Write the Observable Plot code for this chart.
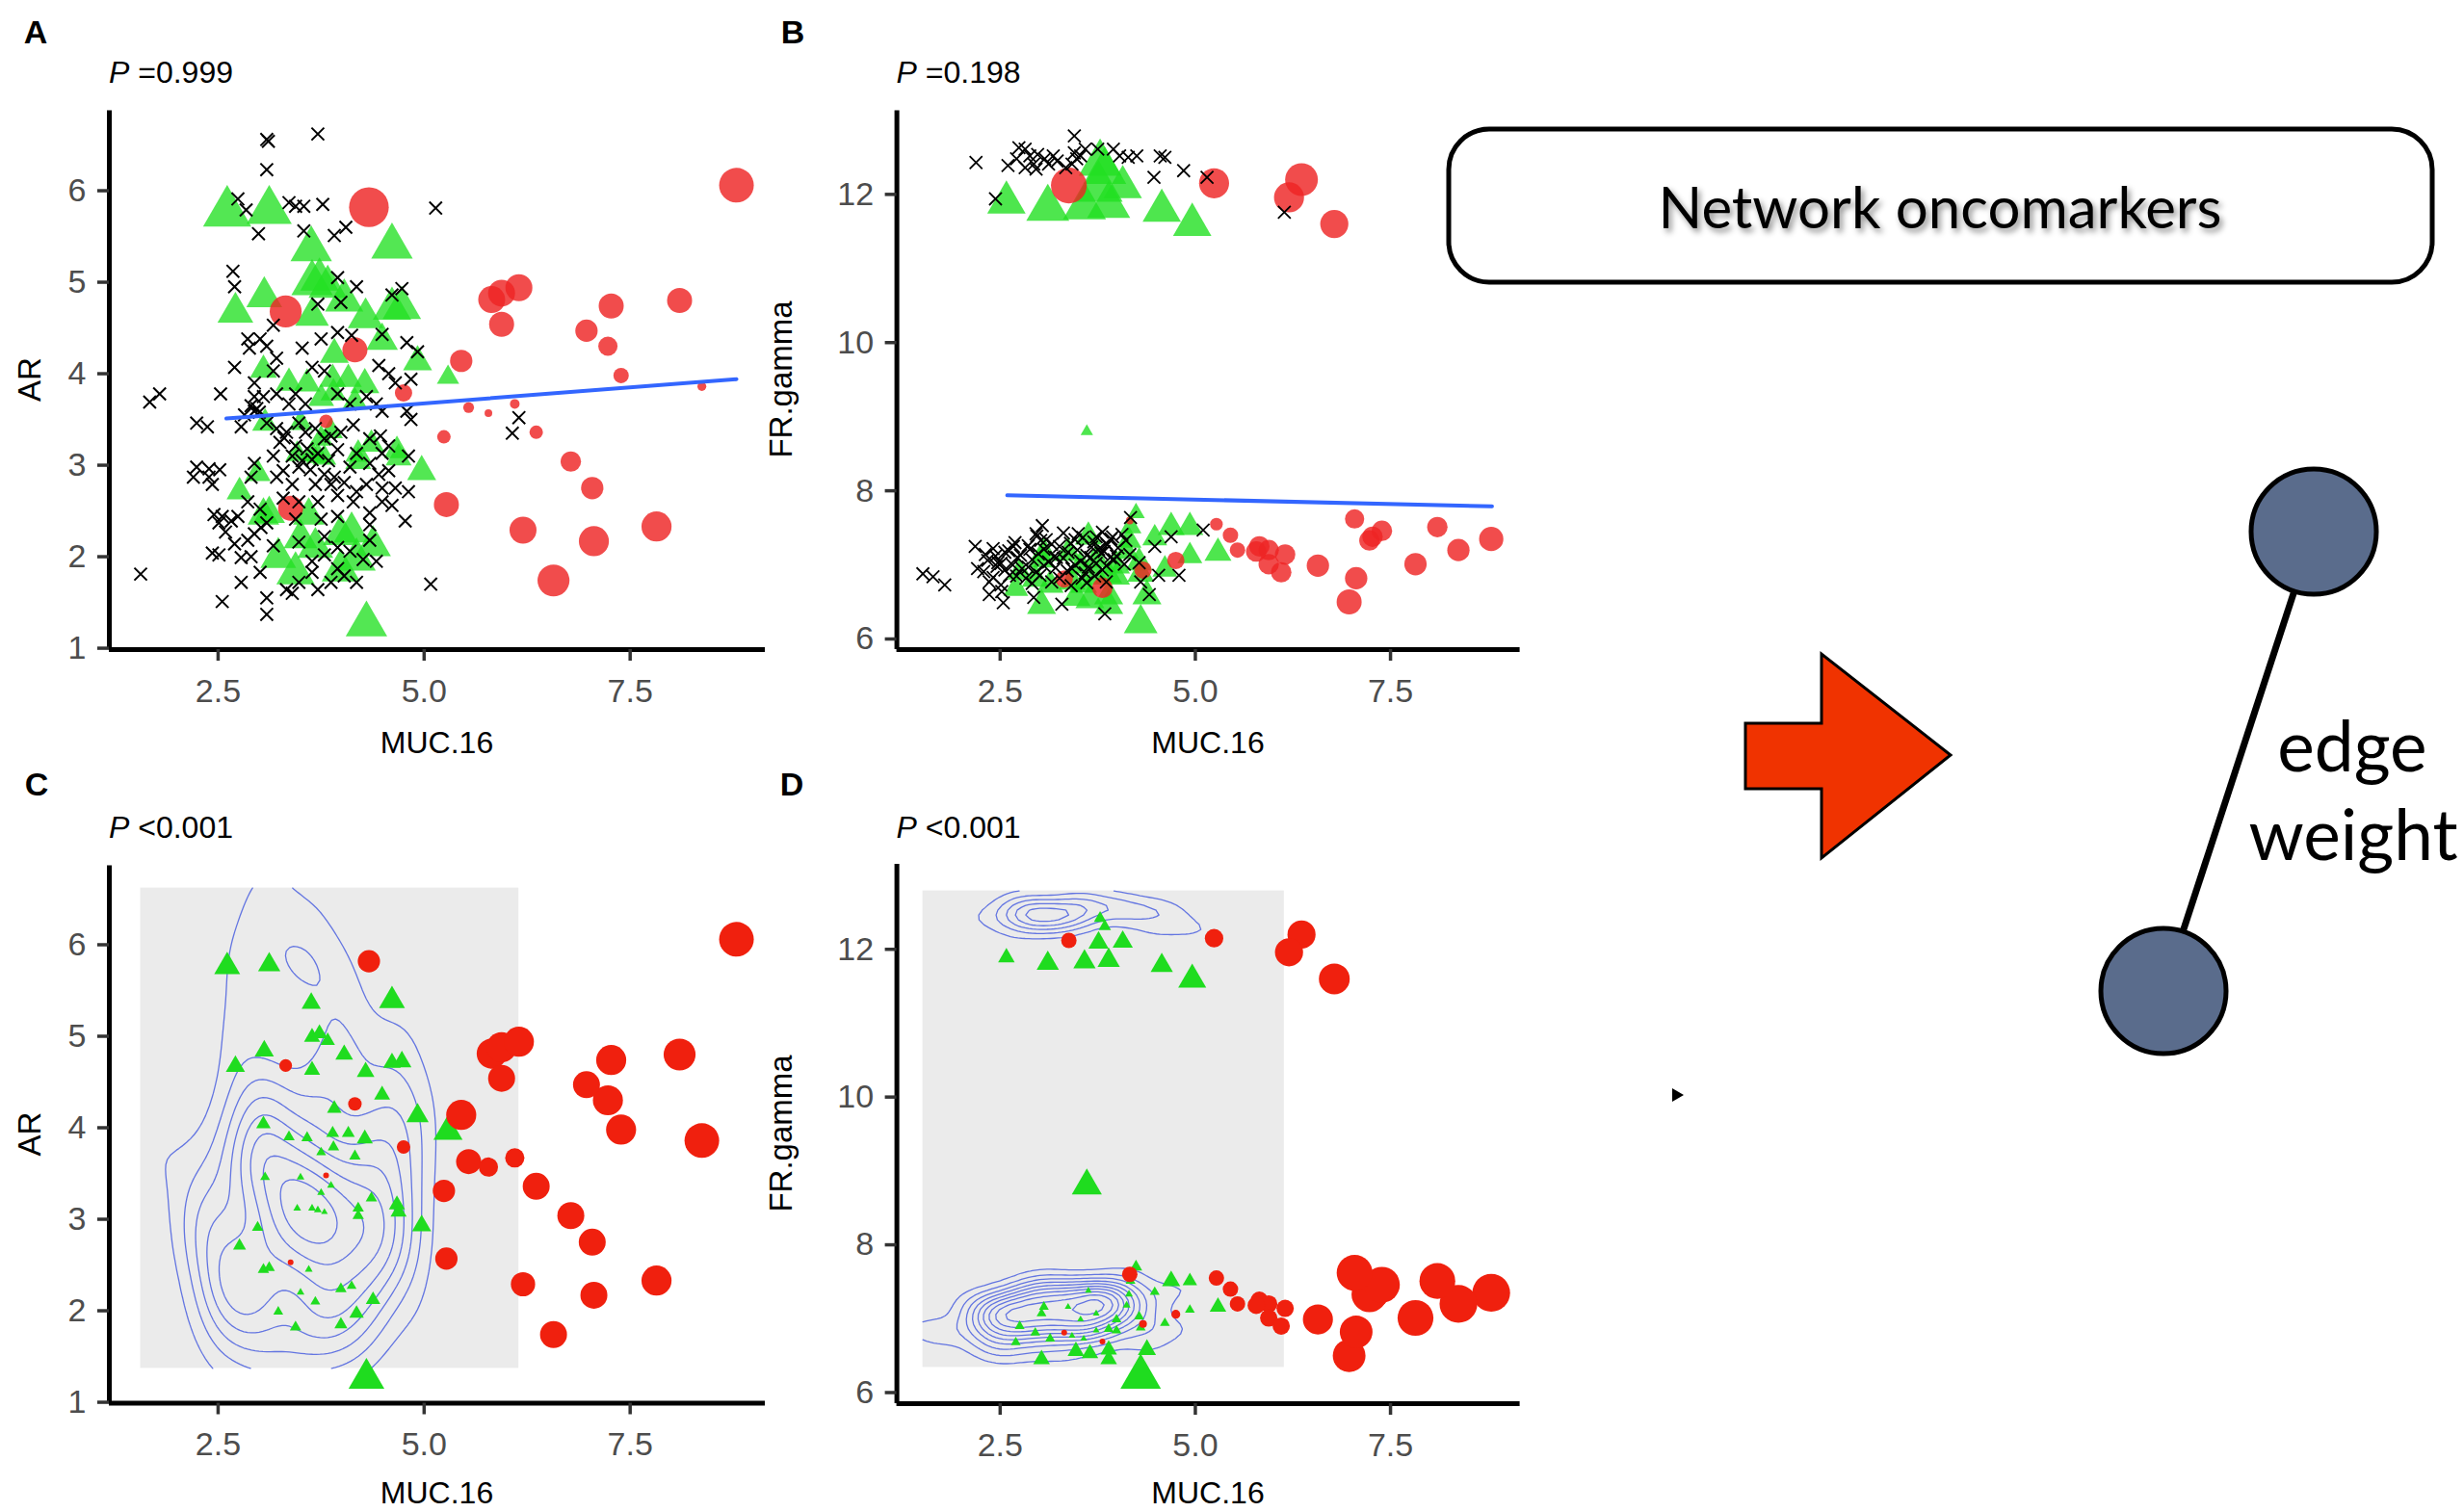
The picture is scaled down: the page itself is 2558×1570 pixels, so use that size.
<!DOCTYPE html>
<html><head><meta charset="utf-8">
<script src="https://cdn.jsdelivr.net/npm/d3@7"></script>
<script src="https://cdn.jsdelivr.net/npm/@observablehq/plot@0.6"></script>
<style>
html,body{margin:0;padding:0;background:#fff;overflow:hidden;}
#fig{position:relative;width:2558px;height:1570px;background:#fff;}
#fig svg{position:absolute;}
</style></head><body><div id="fig"></div>
<script>
// ---------------- DATA ----------------
// Red (circle) samples: MUC.16, AR, FR.gamma and size weight in panels A-D
const redMUC = [4.33, 8.79, 3.32, 4.16, 4.75, 3.81, 3.38, 5.45, 5.82, 5.94, 6.15, 5.94, 7.27, 8.10, 6.97, 7.23, 7.39, 8.37, 5.54, 5.78, 6.10, 5.24, 6.36, 6.78, 7.04, 5.27, 6.20, 7.06, 7.82, 6.57];
const redAR  = [5.82, 6.06, 4.68, 4.26, 3.79, 3.48, 2.53, 4.14, 4.81, 4.88, 4.94, 4.54, 4.74, 4.80, 4.47, 4.30, 3.98, 3.86, 3.63, 3.57, 3.67, 3.31, 3.36, 3.04, 2.75, 2.57, 2.29, 2.17, 2.33, 1.74];
const redFR  = [6.93, 7.35, 6.81, 7.60, 7.06, 6.69, 12.12, 7.40, 7.25, 7.20, 7.14, 7.01, 7.38, 7.51, 6.50, 7.33, 7.46, 7.20, 7.20, 7.18, 6.90, 12.15, 12.20, 11.60, 7.62, 7.55, 11.96, 6.82, 7.01, 6.99];
const redWA  = [10.3, 9, 8.3, 6.5, 4.5, 3.5, 6.5, 5.8, 7, 7, 7, 6.5, 6.5, 6.5, 5.8, 5, 4, 2.3, 2.8, 2, 2.5, 3.5, 3.5, 5.3, 5.8, 6.5, 7, 7.8, 7.8, 8.3];
const redWB  = [4.5, 6.3, 4.5, 2, 4.5, 5.3, 9.3, 4, 5.3, 5.3, 5.3, 5.3, 5.3, 5.3, 6.5, 5.3, 5.3, 5.8, 4, 5.3, 5.3, 7.8, 8.5, 7.3, 5, 3.3, 7.8, 5.8, 5.8, 5.8];
const redWC  = [5.8, 9, 3.3, 3.5, 3.5, 1.5, 1.5, 7.8, 7.8, 7.8, 7.8, 7, 7.8, 8.3, 7, 7.8, 7.8, 9, 6.5, 5, 5, 5.8, 7, 7, 7, 5.8, 6.3, 7, 7.8, 7];
const redWD  = [2, 9.8, 1.5, 4, 2.3, 1.5, 4, 4, 4.5, 4.5, 4.5, 4.5, 9.3, 9.3, 8.5, 9.3, 9.3, 9.8, 4, 4.5, 4.5, 4.8, 7.3, 8, 9.3, 4, 7.3, 8.5, 9.3, 7.8];

// Green (triangle) samples on the AR panels (A, C)
const greenMUC_AR = [2.61, 3.12, 3.63, 4.61, 3.64, 3.73, 3.83, 4.03, 3.06, 2.71, 3.64, 4.29, 4.61, 4.73, 4.49, 3.91, 4.92, 5.29, 3.05, 3.36, 3.58, 3.89, 4.08, 4.28, 3.90, 3.75, 4.16, 3.07, 3.50, 3.87, 3.75, 3.46, 3.64, 3.71, 3.79, 4.20, 4.20, 4.36, 4.67, 4.69, 4.97, 2.98, 2.76, 3.05, 3.12, 3.60, 3.50, 3.68, 3.99, 4.12, 4.38, 3.23, 3.44, 3.99, 4.18, 4.30];
const greenAR     = [5.76, 5.78, 5.36, 5.39, 4.99, 5.03, 4.95, 4.80, 4.84, 4.67, 4.63, 4.61, 4.71, 4.72, 4.36, 4.21, 4.13, 3.96, 4.04, 3.90, 3.89, 3.94, 3.94, 3.88, 3.79, 3.73, 3.69, 3.46, 3.46, 3.37, 3.29, 3.12, 3.12, 3.10, 3.08, 3.12, 3.04, 3.23, 3.16, 3.08, 2.93, 2.91, 2.71, 2.45, 2.47, 2.45, 2.20, 2.10, 2.24, 2.27, 2.12, 1.99, 1.82, 1.85, 1.97, 1.26];
const greenWA     = [9.3, 8.7, 8, 8, 8, 7.4, 7.4, 7.4, 6.9, 6.9, 6.5, 6.9, 7.4, 7.4, 6.1, 5.6, 5.6, 4.3, 5.2, 5.2, 5.2, 5.2, 5.2, 5.6, 5, 5, 5, 5, 4.6, 4.6, 4.6, 4.6, 4.6, 4.6, 4.6, 5, 5, 5, 5, 5, 5.6, 5, 5, 6.1, 6.1, 6.1, 6.5, 6.9, 6.9, 6.9, 6.9, 6.9, 7.4, 7.4, 7.4, 8];
const greenWC     = [5, 4.3, 3.7, 5, 3.1, 3.1, 2.8, 3.4, 3.7, 3.7, 3.1, 3.4, 3.4, 3.7, 3.1, 2.8, 4.3, 5.6, 2.8, 2.2, 2.2, 2.5, 2.5, 3.1, 2.2, 1.9, 2.2, 1.9, 1.5, 1.5, 1.5, 1.5, 1.5, 1.5, 1.3, 2.2, 2.2, 2.2, 3.1, 3.1, 3.7, 2.2, 2.5, 2.2, 2.2, 1.5, 1.5, 1.9, 2.2, 1.9, 2.8, 1.9, 2.2, 2.5, 2.8, 6.9];

// Green (triangle) samples on the FR.gamma panels (B, D)
const greenMUC_FR = [2.58, 3.11, 3.58, 3.76, 3.78, 3.84, 3.89, 4.07, 4.57, 4.96, 3.61, 4.24, 4.17, 4.69, 4.93, 5.29, 4.48, 4.93, 4.61, 4.12, 4.15, 3.99, 3.89, 3.63, 3.73, 3.53, 3.37, 3.06, 3.03, 2.75, 2.95, 2.70, 3.14, 3.42, 3.57, 3.73, 3.99, 4.28, 4.30, 3.03, 3.47, 3.65, 3.89, 3.89, 4.38, 4.30];
const greenFR     = [11.89, 11.81, 11.83, 12.09, 12.42, 12.31, 11.85, 12.10, 11.78, 11.59, 8.80, 7.70, 7.51, 7.51, 7.51, 7.16, 7.36, 7.12, 6.94, 7.18, 7.33, 6.99, 6.86, 7.38, 7.07, 6.99, 7.16, 7.16, 7.07, 6.90, 6.81, 6.68, 6.73, 6.77, 6.73, 6.84, 6.84, 7.03, 6.88, 6.45, 6.56, 6.53, 6.58, 6.45, 6.58, 6.21];
const greenWB     = [7.4, 8.3, 8.3, 9.3, 8.3, 8.3, 8.3, 7.4, 7.4, 7.4, 2.4, 3.4, 4.2, 5.2, 5.2, 5.2, 4.8, 4.8, 4.8, 4.8, 4.8, 5.2, 5.2, 5.2, 5.2, 5.2, 5.2, 5.2, 5.2, 4.8, 5.2, 4.8, 5.2, 5.2, 5.2, 5.2, 5.2, 5.2, 5.2, 5.6, 5.6, 5.6, 5.6, 5.6, 5.6, 6.5];
const greenWD     = [3.2, 4.3, 4.3, 3.9, 2.4, 2.4, 4.3, 3.9, 4.3, 5.4, 5.8, 2.4, 1.9, 3.5, 2.8, 3.2, 1.9, 1.9, 1.9, 1.5, 1.5, 1.9, 1.9, 1.3, 1.3, 1.3, 1.3, 1.9, 1.9, 1.9, 1.9, 1.9, 1.9, 1.3, 1.3, 1.3, 1.9, 1.9, 1.9, 3.2, 3.2, 3.2, 3.2, 3.2, 3.5, 7.8];

// Black (cross) samples, [MUC.16, AR]
const blackA = [[3.09,6.56],[3.11,6.54],[3.09,6.23],[3.71,6.62],[2.74,5.91],[2.84,5.79],[3.36,5.87],[3.44,5.83],[3.54,5.83],[3.77,5.85],
[2.99,5.53],[3.54,5.56],[4.05,5.60],[3.91,5.51],[5.14,5.81],[2.68,5.12],[2.70,4.95],[3.95,5.05],[4.18,4.95],[4.73,4.93],
[4.61,4.86],[3.99,4.78],[3.71,4.76],[3.17,4.53],[2.86,4.38],[3.01,4.38],[3.09,4.30],[2.88,4.28],[3.75,4.38],[3.95,4.45],
[4.12,4.42],[3.52,4.28],[4.49,4.43],[4.79,4.34],[4.92,4.24],[3.21,4.17],[2.70,4.07],[3.17,4.03],[3.64,4.07],[3.79,4.03],
[4.45,4.09],[4.57,4.00],[4.65,3.90],[4.84,3.94],[2.94,3.90],[2.53,3.78],[1.79,3.78],[1.67,3.69],[2.94,3.75],[2.90,3.65],
[2.94,3.59],[3.05,3.75],[3.21,3.78],[3.44,3.78],[3.36,3.67],[3.56,3.67],[3.95,3.78],[4.10,3.67],[4.30,3.75],[4.42,3.67],
[4.49,3.59],[4.79,3.59],[4.84,3.50],[2.24,3.46],[2.37,3.42],[2.78,3.42],[2.82,3.55],[3.09,3.46],[3.21,3.40],[3.33,3.36],
[3.48,3.46],[3.56,3.36],[3.68,3.40],[3.79,3.29],[3.87,3.32],[3.99,3.36],[4.14,3.44],[4.34,3.29],[4.47,3.32],[3.25,3.25],
[3.44,3.21],[3.71,3.13],[3.95,3.17],[4.18,3.13],[4.49,3.13],[4.57,3.21],[2.24,2.98],[2.39,2.96],[2.20,2.87],[2.39,2.87],
[2.94,3.02],[3.17,3.10],[3.29,2.94],[3.48,2.98],[3.64,3.06],[3.79,2.90],[3.91,2.87],[4.10,2.98],[4.34,3.02],[4.45,2.90],
[4.57,2.94],[4.81,3.10],[2.90,2.87],[3.21,2.87],[3.40,2.79],[3.68,2.79],[3.87,2.79],[4.03,2.81],[4.18,2.71],[4.30,2.79],
[4.49,2.75],[4.65,2.75],[4.81,2.71],[2.43,2.79],[2.86,2.60],[3.01,2.52],[3.29,2.64],[3.48,2.60],[3.71,2.60],[3.95,2.67],
[4.14,2.60],[4.34,2.48],[4.49,2.60],[4.61,2.56],[2.45,2.46],[2.55,2.44],[2.66,2.39],[2.51,2.37],[2.74,2.44],[3.75,2.41],
[3.95,2.44],[4.77,2.39],[3.09,2.37],[3.44,2.41],[4.34,2.35],[2.59,2.27],[2.86,2.18],[2.70,2.14],[2.94,2.25],[2.51,2.02],
[2.43,2.04],[2.78,1.99],[2.90,2.00],[3.17,2.12],[3.48,2.16],[3.79,2.22],[3.95,2.10],[3.79,2.02],[3.64,1.95],[4.10,2.06],
[4.34,2.18],[4.42,1.95],[4.26,1.97],[3.01,1.83],[2.78,1.72],[3.33,1.64],[3.40,1.60],[3.64,1.83],[3.71,1.64],[3.87,1.72],
[4.03,1.79],[4.18,1.72],[2.55,1.51],[3.09,1.55],[3.09,1.37],[5.08,1.70],[3.95,1.87],[3.48,1.72],[1.56,1.81],[6.07,3.35],
[6.15,3.52],[2.97,3.62],[3.00,3.58],[3.52,3.05],[3.58,3.18],[3.62,2.95],[3.84,3.05],[3.30,3.30],[3.40,3.10],[2.52,2.95],[3.02,2.32]];

// Black (cross) samples, [MUC.16, FR.gamma]
const blackB = [[2.19,12.43],[2.44,11.94],[2.60,12.39],[2.74,12.63],[2.82,12.61],[2.88,12.52],[2.93,12.41],[2.98,12.54],[3.07,12.48],[3.12,12.41],
[3.18,12.52],[3.23,12.45],[3.34,12.36],[3.45,12.79],[3.45,12.56],[3.48,12.48],[3.59,12.61],[3.75,12.61],[3.95,12.61],[4.03,12.52],
[4.14,12.50],[4.25,12.52],[4.47,12.23],[4.55,12.52],[4.61,12.50],[4.85,12.32],[5.15,12.23],[6.14,11.76],[2.71,12.48],[2.82,12.36],
[2.96,12.34],[3.42,12.41],[3.53,12.52],
[1.51,6.88],[1.64,6.84],[1.79,6.73],[2.18,7.25],[2.21,6.95],[2.36,6.77],[2.44,7.12],[2.47,7.03],[2.52,6.64],[2.54,6.49],
[2.67,7.25],[2.72,7.10],[2.78,6.95],[2.88,7.21],[2.96,7.42],[3.04,7.53],[3.09,7.34],[3.22,7.10],[3.29,6.47],[3.40,7.29],
[3.50,7.42],[3.66,7.10],[3.73,7.38],[3.76,7.21],[3.86,7.29],[3.94,7.38],[3.99,7.12],[3.84,6.34],[3.86,6.77],[4.17,7.64],
[4.30,6.77],[4.41,6.60],[4.48,7.25],[4.69,7.38],[4.79,6.86],[5.10,7.47],[2.83,6.82],[2.62,6.86],[3.01,6.86],[3.16,6.77],
[3.42,6.95],[3.55,6.82],[4.28,7.03],[4.53,6.86],[2.36,6.60],[2.93,6.56],
[2.97,7.39],[3.31,7.43],[3.56,7.37],[3.81,7.44],[3.92,7.35],[4.06,7.41],
[2.69,7.30],[3.02,7.33],[3.16,7.28],[3.46,7.34],[3.70,7.31],[3.87,7.27],[4.11,7.33],
[2.41,7.22],[2.61,7.19],[2.86,7.26],[3.06,7.21],[3.26,7.25],[3.49,7.20],[3.67,7.24],[3.83,7.18],[4.01,7.23],
[2.31,7.14],[2.56,7.17],[2.76,7.13],[2.99,7.15],[3.19,7.11],[3.37,7.17],[3.61,7.13],[3.79,7.16],[3.91,7.10],[4.16,7.14],
[2.34,7.06],[2.51,7.02],[2.91,7.07],[3.12,7.04],[3.31,7.09],[3.53,7.05],[3.73,7.02],[3.96,7.07],[4.09,7.01],
[2.46,6.98],[2.66,7.00],[2.86,6.97],[3.06,6.99],[3.21,6.96],[3.46,7.00],[3.63,6.97],[3.86,6.99],
[2.29,6.91],[2.56,6.93],[2.96,6.90],[3.36,6.92],[3.59,6.89],[3.81,6.93],
[2.41,6.83],[2.71,6.85],[3.26,6.82],[3.71,6.85],
[2.51,6.73],[2.91,6.75],[3.41,6.72],[3.61,6.76]];

// Fitted (lm) lines shown in A and B
const fitA_MUC = [2.60, 8.79], fitA_AR = [3.51, 3.94];
const fitB_MUC = [2.59, 8.80], fitB_FR = [7.94, 7.79];

// Axis ticks and labels
const xTicks = [2.5, 5.0, 7.5];
const arTicks = [1, 2, 3, 4, 5, 6];
const frTicks = [6, 8, 10, 12];
const pValues = ["=0.999", "=0.198", "<0.001", "<0.001"];
const panelLetters = ["A", "B", "C", "D"];

// ---------------- BUILD ----------------
const FONT = "'Liberation Sans', Arial, Helvetica, sans-serif";
const fig = document.getElementById("fig");
const zip = (cols) => { const k = Object.keys(cols); return cols[k[0]].map((_, i) => Object.fromEntries(k.map(n => [n, cols[n][i]]))); };

const red = zip({muc: redMUC, ar: redAR, fr: redFR, wA: redWA, wB: redWB, wC: redWC, wD: redWD});
const gAR = zip({muc: greenMUC_AR, y: greenAR, wA: greenWA, wC: greenWC});
const gFR = zip({muc: greenMUC_FR, y: greenFR, wB: greenWB, wD: greenWD});
const bA = blackA.map(([muc, y]) => ({muc, y}));
const bB = blackB.map(([muc, y]) => ({muc, y}));
const fitA = zip({muc: fitA_MUC, y: fitA_AR});
const fitB = zip({muc: fitB_MUC, y: fitB_FR});

// MASS::kde2d style density + contour lines (as ggplot's stat_density_2d)
function bwNrd(v) {
  const r = d3.quantile(v, 0.75) - d3.quantile(v, 0.25);
  return 4 * 1.06 * Math.min(Math.sqrt(d3.variance(v)), r / 1.34) * Math.pow(v.length, -0.2);
}
function densityContours(pts, {n = 100, adjust = [1, 1], bins = 10} = {}) {
  const xs = pts.map(d => d.muc), ys = pts.map(d => d.y);
  const lx = d3.extent(xs), ly = d3.extent(ys);
  const hx = adjust[0] * bwNrd(xs) / 4, hy = adjust[1] * bwNrd(ys) / 4;
  const dn = (u) => Math.exp(-0.5 * u * u) / Math.sqrt(2 * Math.PI);
  const gx = d3.range(n).map(i => lx[0] + (lx[1] - lx[0]) * i / (n - 1));
  const gy = d3.range(n).map(i => ly[0] + (ly[1] - ly[0]) * i / (n - 1));
  const ax = gx.map(g => xs.map(x => dn((g - x) / hx)));
  const ay = gy.map(g => ys.map(y => dn((g - y) / hy)));
  const N = xs.length, values = new Float64Array(n * n);
  for (let j = 0; j < n; j++) for (let i = 0; i < n; i++) {
    let s = 0; const a = ax[i], b = ay[j];
    for (let k = 0; k < N; k++) s += a[k] * b[k];
    values[j * n + i] = s / (N * hx * hy);
  }
  const zmax = d3.max(values);
  const levels = d3.ticks(0, zmax, bins).filter(t => t > 0 && t < zmax);
  const cs = d3.contours().size([n, n]).thresholds(levels)(values);
  const out = []; let id = 0;
  for (const c of cs) for (const poly of c.coordinates) for (const ring of poly) {
    id++;
    for (const [cx, cy] of ring) {
      const edge = cx < 0.25 || cx > n - 0.25 || cy < 0.25 || cy > n - 0.25;
      out.push(edge ? {x: NaN, y: NaN, id} : {
        x: lx[0] + (cx - 0.5) * (lx[1] - lx[0]) / (n - 1),
        y: ly[0] + (cy - 0.5) * (ly[1] - ly[0]) / (n - 1), id});
    }
  }
  return {lines: out, box: [{x1: lx[0], x2: lx[1], y1: ly[0], y2: ly[1]}]};
}

function panel({left, top, width, height, mL, mR, mT, mB, xDomain, yDomain, yTicks, marks}) {
  const svg = Plot.plot({
    width, height, marginLeft: mL, marginRight: mR, marginTop: mT, marginBottom: mB,
    x: {domain: xDomain, axis: null}, y: {domain: yDomain, axis: null},
    r: {type: "linear", domain: [0, 10], range: [0, 20]},
    style: {fontFamily: FONT, background: "transparent", overflow: "visible", maxWidth: "none", color: "black"},
    marks: [
      ...marks,
      Plot.ruleX([xDomain[0]], {stroke: "black", strokeWidth: 5}),
      Plot.ruleY([yDomain[0]], {stroke: "black", strokeWidth: 5}),
      Plot.axisX(xTicks, {tickSize: 12, tickPadding: 18, stroke: "#333", strokeWidth: 3.5, fill: "#4d4d4d", fontSize: 34, tickFormat: d3.format(".1f"), label: null}),
      Plot.axisY(yTicks, {tickSize: 12, tickPadding: 12, stroke: "#333", strokeWidth: 3.5, fill: "#4d4d4d", fontSize: 34, tickFormat: d => String(d), label: null})
    ]
  });
  svg.style.position = "absolute";
  svg.style.left = left + "px";
  svg.style.top = top + "px";
  fig.appendChild(svg);
}

const G1 = "#22e022", R1 = "#ee2424", G2 = "#1fdc1f", R2 = "#f0200e", BLUE = "#3366ff";
const xDom = [1.18, 9.14], xDomB = [1.177, 9.16];

// Panel A
panel({left: 0, top: 0, width: 800, height: 784, mL: 113, mR: 6, mT: 114.4, mB: 110,
  xDomain: xDom, yDomain: [0.985, 6.875], yTicks: arTicks, marks: [
    Plot.dot(gAR, {x: "muc", y: "y", r: "wA", symbol: "triangle", fill: G1, fillOpacity: 0.78}),
    Plot.dot(red, {x: "muc", y: "ar", r: "wA", fill: R1, fillOpacity: 0.82}),
    Plot.dot(bA, {x: "muc", y: "y", r: 6, symbol: "times", stroke: "black", strokeWidth: 2}),
    Plot.line(fitA, {x: "muc", y: "y", stroke: BLUE, strokeWidth: 4})
  ]});

// Panel B
panel({left: 800, top: 0, width: 800, height: 784, mL: 130.6, mR: 22.4, mT: 114.4, mB: 110,
  xDomain: xDomB, yDomain: [5.857, 13.13], yTicks: frTicks, marks: [
    Plot.dot(gFR, {x: "muc", y: "y", r: "wB", symbol: "triangle", fill: G1, fillOpacity: 0.8}),
    Plot.dot(red, {x: "muc", y: "fr", r: "wB", fill: R1, fillOpacity: 0.82}),
    Plot.dot(bB, {x: "muc", y: "y", r: 6, symbol: "times", stroke: "black", strokeWidth: 1.8}),
    Plot.line(fitB, {x: "muc", y: "y", stroke: BLUE, strokeWidth: 4})
  ]});

// Panel C
const dC = densityContours(bA, {adjust: [0.92, 1.12], bins: 12});
panel({left: 0, top: 784, width: 800, height: 786, mL: 113, mR: 6, mT: 114.4, mB: 113.5,
  xDomain: xDom, yDomain: [0.99, 6.864], yTicks: arTicks, marks: [
    Plot.rect(dC.box, {x1: "x1", x2: "x2", y1: "y1", y2: "y2", fill: "#ebebeb"}),
    Plot.line(dC.lines, {x: "x", y: "y", z: "id", stroke: "#5468e0", strokeWidth: 1.3, strokeOpacity: 0.9}),
    Plot.dot(gAR, {x: "muc", y: "y", r: "wC", symbol: "triangle", fill: G2}),
    Plot.dot(red, {x: "muc", y: "ar", r: "wC", fill: R2})
  ]});

// Panel D
const dD = densityContours(bB, {adjust: [0.9, 1], bins: 10});
panel({left: 800, top: 784, width: 800, height: 786, mL: 130.6, mR: 22.4, mT: 113, mB: 113,
  xDomain: xDomB, yDomain: [5.85, 13.15], yTicks: frTicks, marks: [
    Plot.rect(dD.box, {x1: "x1", x2: "x2", y1: "y1", y2: "y2", fill: "#ebebeb"}),
    Plot.line(dD.lines, {x: "x", y: "y", z: "id", stroke: "#5468e0", strokeWidth: 1.3, strokeOpacity: 0.9}),
    Plot.dot(gFR, {x: "muc", y: "y", r: "wD", symbol: "triangle", fill: G2}),
    Plot.dot(red, {x: "muc", y: "fr", r: "wD", fill: R2})
  ]});

// ---------------- Overlay: titles, letters, schematic ----------------
const ns = "http://www.w3.org/2000/svg";
const ov = document.createElementNS(ns, "svg");
ov.setAttribute("width", 2558); ov.setAttribute("height", 1570);
ov.style.left = "0px"; ov.style.top = "0px";
const letterPos = [[37, 45], [823, 45], [38, 826], [822, 826]];
const pPos = [[113, 86], [930.6, 86], [113, 870], [930.6, 870]];
let html = `<defs><filter id="sh" x="-10%" y="-40%" width="120%" height="180%"><feDropShadow dx="3" dy="4" stdDeviation="3" flood-color="#000" flood-opacity="0.45"/></filter></defs>`;
panelLetters.forEach((L, i) => {
  html += `<text x="${letterPos[i][0]}" y="${letterPos[i][1]}" font-family="${FONT}" font-weight="bold" font-size="34" text-anchor="middle">${L}</text>`;
  html += `<text x="${pPos[i][0]}" y="${pPos[i][1]}" font-family="${FONT}" font-size="32" fill="black"><tspan font-style="italic">P</tspan> ${pValues[i].replace("<", "&lt;")}</text>`;
});
const yTitles = [["AR", 42, 394], ["FR.gamma", 822, 394], ["AR", 42, 1177.5], ["FR.gamma", 822, 1177]];
yTitles.forEach(([t, x, y]) => {
  html += `<text transform="translate(${x},${y}) rotate(-90)" text-anchor="middle" font-family="${FONT}" font-size="33">${t}</text>`;
});
[[453.5, 782], [1254, 782], [453.5, 1561], [1254, 1561]].forEach(([x, y]) => {
  html += `<text x="${x}" y="${y}" text-anchor="middle" font-family="${FONT}" font-size="32">MUC.16</text>`;
});
// schematic on the right
html += `<rect x="1504" y="134" width="1021" height="159" rx="42" fill="white" stroke="black" stroke-width="5"/>`;
html += `<text x="2014" y="237" text-anchor="middle" font-family="Lato, 'Open Sans', sans-serif" font-size="60" fill="black" filter="url(#sh)">Network oncomarkers</text>`;
html += `<polygon points="1812,751 1891,751 1891,679 2025,784 1891,891 1891,819 1812,819" fill="#f03300" stroke="black" stroke-width="3" stroke-linejoin="miter"/>`;
html += `<line x1="2402" y1="552" x2="2246" y2="1029" stroke="black" stroke-width="7"/>`;
html += `<circle cx="2402" cy="552" r="65" fill="#5a6c8c" stroke="black" stroke-width="5"/>`;
html += `<circle cx="2246" cy="1029" r="65" fill="#5a6c8c" stroke="black" stroke-width="5"/>`;
html += `<text x="2442" y="801" text-anchor="middle" font-family="Lato, 'Open Sans', sans-serif" font-size="73">edge</text>`;
html += `<text x="2443" y="893" text-anchor="middle" font-family="Lato, 'Open Sans', sans-serif" font-size="73">weight</text>`;
html += `<polygon points="1736,1130 1748,1137 1736,1144" fill="black"/>`;
ov.innerHTML = html;
fig.appendChild(ov);
</script></body></html>
